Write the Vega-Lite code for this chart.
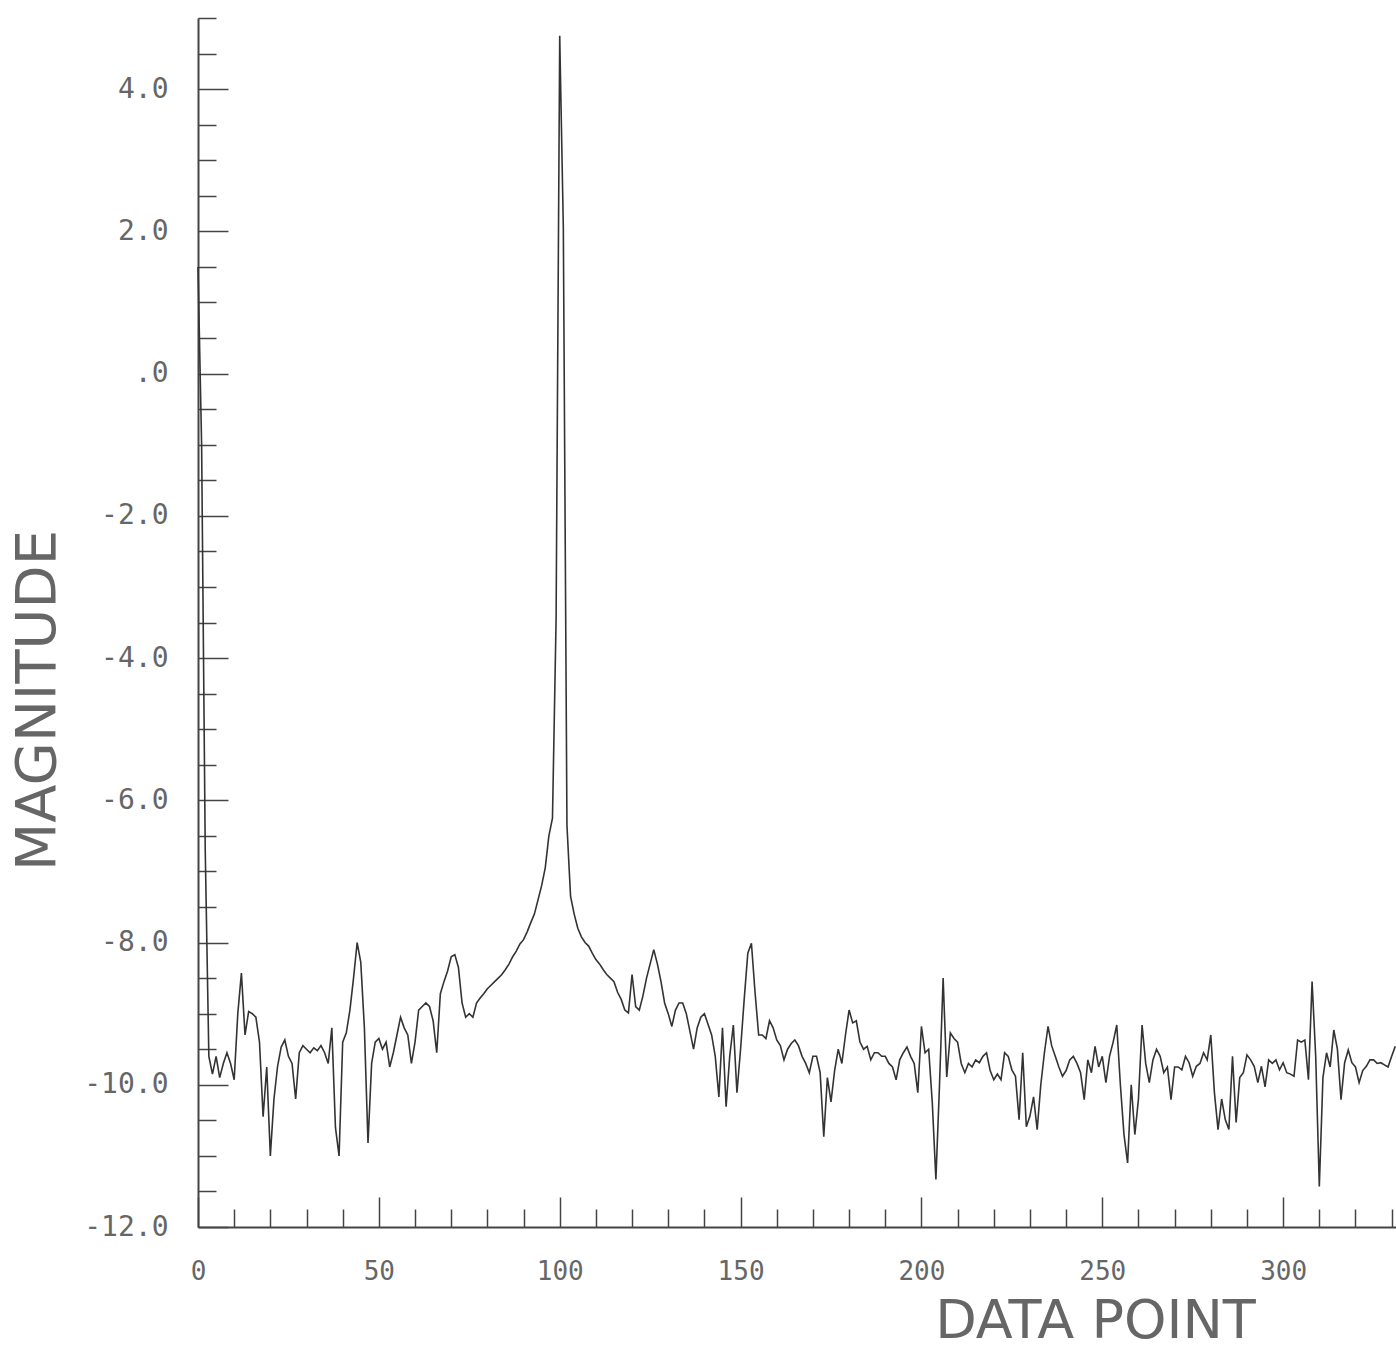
{
  "$schema": "https://vega.github.io/schema/vega-lite/v6.json",
  "width": 1198,
  "height": 1209,
  "autosize": {"type": "none"},
  "padding": {"left": 198, "top": 18, "right": 0, "bottom": 136},
  "background": "#ffffff",
  "config": {"view": {"stroke": null}},
  "data": {"values": [
    {"point":0,"magnitude":1.5},{"point":1,"magnitude":-1.0},{"point":2,"magnitude":-6.7},{"point":3,"magnitude":-9.6},{"point":4,"magnitude":-9.85},
    {"point":5,"magnitude":-9.6},{"point":6,"magnitude":-9.9},{"point":7,"magnitude":-9.7},{"point":8,"magnitude":-9.55},{"point":9,"magnitude":-9.7},
    {"point":10,"magnitude":-9.93},{"point":11,"magnitude":-9.0},{"point":12,"magnitude":-8.43},{"point":13,"magnitude":-9.3},{"point":14,"magnitude":-8.97},
    {"point":15,"magnitude":-9.0},{"point":16,"magnitude":-9.05},{"point":17,"magnitude":-9.4},{"point":18,"magnitude":-10.45},{"point":19,"magnitude":-9.75},
    {"point":20,"magnitude":-11.0},{"point":21,"magnitude":-10.2},{"point":22,"magnitude":-9.74},{"point":23,"magnitude":-9.47},{"point":24,"magnitude":-9.37},
    {"point":25,"magnitude":-9.6},{"point":26,"magnitude":-9.7},{"point":27,"magnitude":-10.2},{"point":28,"magnitude":-9.55},{"point":29,"magnitude":-9.45},
    {"point":30,"magnitude":-9.5},{"point":31,"magnitude":-9.55},{"point":32,"magnitude":-9.48},{"point":33,"magnitude":-9.52},{"point":34,"magnitude":-9.45},
    {"point":35,"magnitude":-9.55},{"point":36,"magnitude":-9.7},{"point":37,"magnitude":-9.2},{"point":38,"magnitude":-10.6},{"point":39,"magnitude":-11.0},
    {"point":40,"magnitude":-9.4},{"point":41,"magnitude":-9.27},{"point":42,"magnitude":-8.95},{"point":43,"magnitude":-8.5},{"point":44,"magnitude":-8.0},
    {"point":45,"magnitude":-8.28},{"point":46,"magnitude":-9.2},{"point":47,"magnitude":-10.82},{"point":48,"magnitude":-9.7},{"point":49,"magnitude":-9.4},
    {"point":50,"magnitude":-9.35},{"point":51,"magnitude":-9.5},{"point":52,"magnitude":-9.4},{"point":53,"magnitude":-9.75},{"point":54,"magnitude":-9.55},
    {"point":55,"magnitude":-9.3},{"point":56,"magnitude":-9.05},{"point":57,"magnitude":-9.2},{"point":58,"magnitude":-9.3},{"point":59,"magnitude":-9.7},
    {"point":60,"magnitude":-9.4},{"point":61,"magnitude":-8.95},{"point":62,"magnitude":-8.9},{"point":63,"magnitude":-8.85},{"point":64,"magnitude":-8.9},
    {"point":65,"magnitude":-9.1},{"point":66,"magnitude":-9.55},{"point":67,"magnitude":-8.72},{"point":68,"magnitude":-8.55},{"point":69,"magnitude":-8.4},
    {"point":70,"magnitude":-8.2},{"point":71,"magnitude":-8.17},{"point":72,"magnitude":-8.35},{"point":73,"magnitude":-8.85},{"point":74,"magnitude":-9.05},
    {"point":75,"magnitude":-9.0},{"point":76,"magnitude":-9.05},{"point":77,"magnitude":-8.85},{"point":78,"magnitude":-8.78},{"point":79,"magnitude":-8.72},
    {"point":80,"magnitude":-8.65},{"point":81,"magnitude":-8.6},{"point":82,"magnitude":-8.55},{"point":83,"magnitude":-8.5},{"point":84,"magnitude":-8.45},
    {"point":85,"magnitude":-8.38},{"point":86,"magnitude":-8.3},{"point":87,"magnitude":-8.2},{"point":88,"magnitude":-8.12},{"point":89,"magnitude":-8.02},
    {"point":90,"magnitude":-7.96},{"point":91,"magnitude":-7.85},{"point":92,"magnitude":-7.72},{"point":93,"magnitude":-7.6},{"point":94,"magnitude":-7.4},
    {"point":95,"magnitude":-7.2},{"point":96,"magnitude":-6.95},{"point":97,"magnitude":-6.5},{"point":98,"magnitude":-6.25},{"point":99,"magnitude":-3.45},
    {"point":100,"magnitude":4.75},{"point":101,"magnitude":2.05},{"point":102,"magnitude":-6.35},{"point":103,"magnitude":-7.35},{"point":104,"magnitude":-7.6},
    {"point":105,"magnitude":-7.8},{"point":106,"magnitude":-7.92},{"point":107,"magnitude":-8.0},{"point":108,"magnitude":-8.05},{"point":109,"magnitude":-8.15},
    {"point":110,"magnitude":-8.24},{"point":111,"magnitude":-8.3},{"point":112,"magnitude":-8.38},{"point":113,"magnitude":-8.45},{"point":114,"magnitude":-8.5},
    {"point":115,"magnitude":-8.55},{"point":116,"magnitude":-8.7},{"point":117,"magnitude":-8.8},{"point":118,"magnitude":-8.95},{"point":119,"magnitude":-8.99},
    {"point":120,"magnitude":-8.45},{"point":121,"magnitude":-8.9},{"point":122,"magnitude":-8.95},{"point":123,"magnitude":-8.75},{"point":124,"magnitude":-8.5},
    {"point":125,"magnitude":-8.3},{"point":126,"magnitude":-8.1},{"point":127,"magnitude":-8.3},{"point":128,"magnitude":-8.55},{"point":129,"magnitude":-8.85},
    {"point":130,"magnitude":-9.0},{"point":131,"magnitude":-9.18},{"point":132,"magnitude":-8.95},{"point":133,"magnitude":-8.85},{"point":134,"magnitude":-8.85},
    {"point":135,"magnitude":-9.0},{"point":136,"magnitude":-9.25},{"point":137,"magnitude":-9.5},{"point":138,"magnitude":-9.2},{"point":139,"magnitude":-9.05},
    {"point":140,"magnitude":-9.0},{"point":141,"magnitude":-9.15},{"point":142,"magnitude":-9.3},{"point":143,"magnitude":-9.6},{"point":144,"magnitude":-10.17},
    {"point":145,"magnitude":-9.2},{"point":146,"magnitude":-10.31},{"point":147,"magnitude":-9.6},{"point":148,"magnitude":-9.16},{"point":149,"magnitude":-10.11},
    {"point":150,"magnitude":-9.5},{"point":151,"magnitude":-8.8},{"point":152,"magnitude":-8.15},{"point":153,"magnitude":-8.01},{"point":154,"magnitude":-8.7},
    {"point":155,"magnitude":-9.3},{"point":156,"magnitude":-9.3},{"point":157,"magnitude":-9.35},{"point":158,"magnitude":-9.1},{"point":159,"magnitude":-9.2},
    {"point":160,"magnitude":-9.37},{"point":161,"magnitude":-9.45},{"point":162,"magnitude":-9.65},{"point":163,"magnitude":-9.5},{"point":164,"magnitude":-9.42},
    {"point":165,"magnitude":-9.37},{"point":166,"magnitude":-9.45},{"point":167,"magnitude":-9.6},{"point":168,"magnitude":-9.7},{"point":169,"magnitude":-9.83},
    {"point":170,"magnitude":-9.6},{"point":171,"magnitude":-9.6},{"point":172,"magnitude":-9.83},{"point":173,"magnitude":-10.73},{"point":174,"magnitude":-9.9},
    {"point":175,"magnitude":-10.24},{"point":176,"magnitude":-9.8},{"point":177,"magnitude":-9.5},{"point":178,"magnitude":-9.7},{"point":179,"magnitude":-9.3},
    {"point":180,"magnitude":-8.95},{"point":181,"magnitude":-9.13},{"point":182,"magnitude":-9.1},{"point":183,"magnitude":-9.4},{"point":184,"magnitude":-9.5},
    {"point":185,"magnitude":-9.46},{"point":186,"magnitude":-9.65},{"point":187,"magnitude":-9.55},{"point":188,"magnitude":-9.55},{"point":189,"magnitude":-9.6},
    {"point":190,"magnitude":-9.6},{"point":191,"magnitude":-9.7},{"point":192,"magnitude":-9.75},{"point":193,"magnitude":-9.93},{"point":194,"magnitude":-9.65},
    {"point":195,"magnitude":-9.55},{"point":196,"magnitude":-9.47},{"point":197,"magnitude":-9.6},{"point":198,"magnitude":-9.7},{"point":199,"magnitude":-10.11},
    {"point":200,"magnitude":-9.18},{"point":201,"magnitude":-9.55},{"point":202,"magnitude":-9.5},{"point":203,"magnitude":-10.25},{"point":204,"magnitude":-11.33},
    {"point":205,"magnitude":-10.0},{"point":206,"magnitude":-8.5},{"point":207,"magnitude":-9.89},{"point":208,"magnitude":-9.27},{"point":209,"magnitude":-9.35},
    {"point":210,"magnitude":-9.4},{"point":211,"magnitude":-9.7},{"point":212,"magnitude":-9.83},{"point":213,"magnitude":-9.7},{"point":214,"magnitude":-9.75},
    {"point":215,"magnitude":-9.65},{"point":216,"magnitude":-9.69},{"point":217,"magnitude":-9.6},{"point":218,"magnitude":-9.55},{"point":219,"magnitude":-9.8},
    {"point":220,"magnitude":-9.93},{"point":221,"magnitude":-9.85},{"point":222,"magnitude":-9.93},{"point":223,"magnitude":-9.55},{"point":224,"magnitude":-9.6},
    {"point":225,"magnitude":-9.79},{"point":226,"magnitude":-9.88},{"point":227,"magnitude":-10.49},{"point":228,"magnitude":-9.55},{"point":229,"magnitude":-10.59},
    {"point":230,"magnitude":-10.44},{"point":231,"magnitude":-10.17},{"point":232,"magnitude":-10.63},{"point":233,"magnitude":-10.0},{"point":234,"magnitude":-9.55},
    {"point":235,"magnitude":-9.18},{"point":236,"magnitude":-9.45},{"point":237,"magnitude":-9.6},{"point":238,"magnitude":-9.75},{"point":239,"magnitude":-9.88},
    {"point":240,"magnitude":-9.8},{"point":241,"magnitude":-9.65},{"point":242,"magnitude":-9.6},{"point":243,"magnitude":-9.7},{"point":244,"magnitude":-9.83},
    {"point":245,"magnitude":-10.21},{"point":246,"magnitude":-9.65},{"point":247,"magnitude":-9.83},{"point":248,"magnitude":-9.46},{"point":249,"magnitude":-9.75},
    {"point":250,"magnitude":-9.6},{"point":251,"magnitude":-9.97},{"point":252,"magnitude":-9.6},{"point":253,"magnitude":-9.4},{"point":254,"magnitude":-9.16},
    {"point":255,"magnitude":-10.0},{"point":256,"magnitude":-10.7},{"point":257,"magnitude":-11.1},{"point":258,"magnitude":-10.0},{"point":259,"magnitude":-10.7},
    {"point":260,"magnitude":-10.2},{"point":261,"magnitude":-9.16},{"point":262,"magnitude":-9.7},{"point":263,"magnitude":-9.97},{"point":264,"magnitude":-9.65},
    {"point":265,"magnitude":-9.5},{"point":266,"magnitude":-9.6},{"point":267,"magnitude":-9.83},{"point":268,"magnitude":-9.75},{"point":269,"magnitude":-10.21},
    {"point":270,"magnitude":-9.75},{"point":271,"magnitude":-9.75},{"point":272,"magnitude":-9.79},{"point":273,"magnitude":-9.6},{"point":274,"magnitude":-9.69},
    {"point":275,"magnitude":-9.88},{"point":276,"magnitude":-9.74},{"point":277,"magnitude":-9.7},{"point":278,"magnitude":-9.55},{"point":279,"magnitude":-9.65},
    {"point":280,"magnitude":-9.3},{"point":281,"magnitude":-10.11},{"point":282,"magnitude":-10.63},{"point":283,"magnitude":-10.2},{"point":284,"magnitude":-10.49},
    {"point":285,"magnitude":-10.63},{"point":286,"magnitude":-9.6},{"point":287,"magnitude":-10.53},{"point":288,"magnitude":-9.9},{"point":289,"magnitude":-9.83},
    {"point":290,"magnitude":-9.58},{"point":291,"magnitude":-9.65},{"point":292,"magnitude":-9.74},{"point":293,"magnitude":-9.97},{"point":294,"magnitude":-9.74},
    {"point":295,"magnitude":-10.03},{"point":296,"magnitude":-9.65},{"point":297,"magnitude":-9.7},{"point":298,"magnitude":-9.65},{"point":299,"magnitude":-9.79},
    {"point":300,"magnitude":-9.69},{"point":301,"magnitude":-9.83},{"point":302,"magnitude":-9.85},{"point":303,"magnitude":-9.88},{"point":304,"magnitude":-9.37},
    {"point":305,"magnitude":-9.4},{"point":306,"magnitude":-9.37},{"point":307,"magnitude":-9.93},{"point":308,"magnitude":-8.55},{"point":309,"magnitude":-9.6},
    {"point":310,"magnitude":-11.43},{"point":311,"magnitude":-9.9},{"point":312,"magnitude":-9.55},{"point":313,"magnitude":-9.75},{"point":314,"magnitude":-9.23},
    {"point":315,"magnitude":-9.5},{"point":316,"magnitude":-10.21},{"point":317,"magnitude":-9.69},{"point":318,"magnitude":-9.51},{"point":319,"magnitude":-9.69},
    {"point":320,"magnitude":-9.75},{"point":321,"magnitude":-9.97},{"point":322,"magnitude":-9.8},{"point":323,"magnitude":-9.74},{"point":324,"magnitude":-9.65},
    {"point":325,"magnitude":-9.65},{"point":326,"magnitude":-9.7},{"point":327,"magnitude":-9.69},{"point":328,"magnitude":-9.72},{"point":329,"magnitude":-9.75},
    {"point":330,"magnitude":-9.6},{"point":331,"magnitude":-9.46}
  ]},
  "mark": {"type": "line", "color": "#333333", "strokeWidth": 1.6},
  "encoding": {
    "x": {
      "field": "point", "type": "quantitative",
      "scale": {"domain": [0, 331.2], "nice": false, "zero": false},
      "axis": {
        "title": "DATA POINT",
        "values": [0,10,20,30,40,50,60,70,80,90,100,110,120,130,140,150,160,170,180,190,200,210,220,230,240,250,260,270,280,290,300,310,320,330],
        "labelExpr": "datum.value % 50 === 0 ? datum.label : ''",
        "tickSize": {"condition": {"test": "datum.value % 50 === 0", "value": -30}, "value": -18},
        "labelPadding": 61,
        "labelFont": "DejaVu Sans Mono", "labelFontSize": 26, "labelColor": "#666666", "labelFontWeight": "normal",
        "labelFlush": false, "labelOverlap": false, "labelBaseline": "top",
        "domainColor": "#444444", "domainWidth": 2, "tickColor": "#444444", "tickWidth": 1.5, "grid": false,
        "titleFont": "DejaVu Sans", "titleFontSize": 54, "titleFontWeight": "normal", "titleColor": "#666666",
        "titleX": 897, "titleY": 94, "titleAlign": "center", "titleBaseline": "middle"
      }
    },
    "y": {
      "field": "magnitude", "type": "quantitative",
      "scale": {"domain": [-12, 5], "nice": false, "zero": false},
      "axis": {
        "title": "MAGNITUDE",
        "values": [-12,-11.5,-11,-10.5,-10,-9.5,-9,-8.5,-8,-7.5,-7,-6.5,-6,-5.5,-5,-4.5,-4,-3.5,-3,-2.5,-2,-1.5,-1,-0.5,0,0.5,1,1.5,2,2.5,3,3.5,4,4.5,5],
        "labelExpr": "datum.value % 2 === 0 && datum.value < 5 ? (datum.value === 0 ? '.0' : (datum.value < 0 ? '-' : '') + format(abs(datum.value), '.1f')) : ''",
        "tickSize": {"condition": {"test": "datum.value % 2 === 0", "value": -30}, "value": -18},
        "labelPadding": 60,
        "labelFont": "DejaVu Sans Mono", "labelFontSize": 28, "labelColor": "#666666", "labelFontWeight": "normal",
        "labelFlush": false, "labelOverlap": false,
        "domainColor": "#444444", "domainWidth": 2, "tickColor": "#444444", "tickWidth": 1.5, "grid": false,
        "titleFont": "DejaVu Sans", "titleFontSize": 56, "titleFontWeight": "normal", "titleColor": "#666666",
        "titleX": -161, "titleY": 682, "titleAngle": 270, "titleAlign": "center", "titleBaseline": "middle"
      }
    }
  }
}
